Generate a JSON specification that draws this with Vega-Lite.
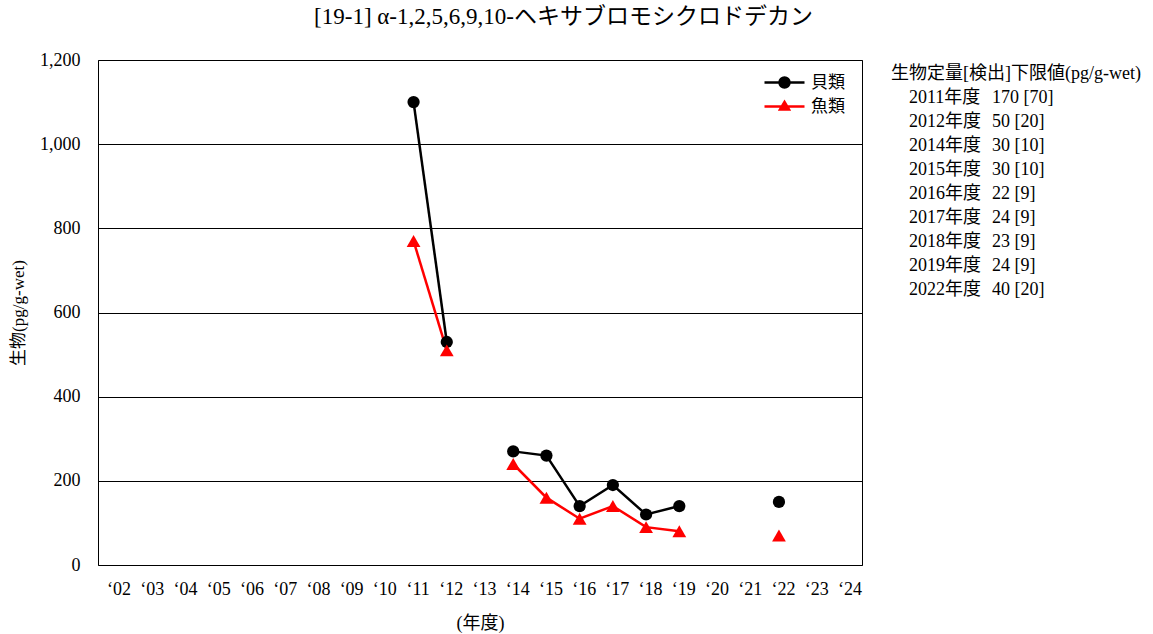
{
  "$schema": "https://vega.github.io/schema/vega-lite/v6.json",
  "padding": {"left": 9, "right": 5, "top": 5, "bottom": 0},
  "background": "white",
  "title": {
    "text": "[19-1] α-1,2,5,6,9,10-ヘキサブロモシクロドデカン",
    "fontSize": 23,
    "fontWeight": "normal",
    "font": "Liberation Serif, Noto Sans CJK JP",
    "color": "black",
    "anchor": "middle",
    "dx": -14,
    "offset": 22
  },
  "config": {
    "font": "Liberation Serif, Noto Sans CJK JP",
    "view": {"stroke": "black", "strokeWidth": 1},
    "axis": {
      "labelFont": "Liberation Serif",
      "titleFont": "Liberation Serif, Noto Sans CJK JP",
      "labelColor": "black",
      "titleColor": "black",
      "labelFontSize": 18,
      "titleFontSize": 17,
      "titleFontWeight": "normal"
    }
  },
  "spacing": 28,
  "hconcat": [
    {
      "width": 764,
      "height": 505,
      "data": {
        "values": [
          {"yr": "‘11", "series": "貝類", "value": 1100, "seg": "a"},
          {"yr": "‘12", "series": "貝類", "value": 530, "seg": "a"},
          {"yr": "‘14", "series": "貝類", "value": 270, "seg": "b"},
          {"yr": "‘15", "series": "貝類", "value": 260, "seg": "b"},
          {"yr": "‘16", "series": "貝類", "value": 140, "seg": "b"},
          {"yr": "‘17", "series": "貝類", "value": 190, "seg": "b"},
          {"yr": "‘18", "series": "貝類", "value": 120, "seg": "b"},
          {"yr": "‘19", "series": "貝類", "value": 140, "seg": "b"},
          {"yr": "‘22", "series": "貝類", "value": 150, "seg": "c"},
          {"yr": "‘11", "series": "魚類", "value": 770, "seg": "a"},
          {"yr": "‘12", "series": "魚類", "value": 510, "seg": "a"},
          {"yr": "‘14", "series": "魚類", "value": 240, "seg": "b"},
          {"yr": "‘15", "series": "魚類", "value": 160, "seg": "b"},
          {"yr": "‘16", "series": "魚類", "value": 110, "seg": "b"},
          {"yr": "‘17", "series": "魚類", "value": 140, "seg": "b"},
          {"yr": "‘18", "series": "魚類", "value": 90, "seg": "b"},
          {"yr": "‘19", "series": "魚類", "value": 80, "seg": "b"},
          {"yr": "‘22", "series": "魚類", "value": 70, "seg": "c"}
        ]
      },
      "encoding": {
        "x": {
          "field": "yr",
          "type": "ordinal",
          "sort": null,
          "scale": {
            "domain": ["‘02","‘03","‘04","‘05","‘06","‘07","‘08","‘09","‘10","‘11","‘12","‘13","‘14","‘15","‘16","‘17","‘18","‘19","‘20","‘21","‘22","‘23","‘24"],
            "padding": 0.5
          },
          "axis": {
            "title": "(年度)",
            "labelFont": "Liberation Serif",
            "titleFontSize": 18,
            "labelAngle": 0,
            "grid": false,
            "ticks": false,
            "tickSize": 0,
            "domain": false,
            "labelPadding": 15,
            "titlePadding": 16,
            "labelOffset": 4
          }
        },
        "y": {
          "field": "value",
          "type": "quantitative",
          "scale": {"domain": [0, 1200]},
          "axis": {
            "title": "生物(pg/g-wet)",
            "labelFont": "Liberation Serif",
            "values": [0, 200, 400, 600, 800, 1000, 1200],
            "format": ",.0f",
            "grid": true,
            "gridColor": "black",
            "gridOpacity": 1,
            "gridWidth": 1,
            "ticks": false,
            "tickSize": 0,
            "domain": false,
            "labelPadding": 18,
            "titlePadding": 12
          }
        },
        "color": {
          "field": "series",
          "type": "nominal",
          "scale": {"domain": ["貝類", "魚類"], "range": ["black", "red"]},
          "legend": {
            "title": null,
            "orient": "none",
            "legendX": 675,
            "legendY": 11,
            "symbolSize": 400,
            "symbolStrokeWidth": 2.5,
            "labelFontSize": 17,
            "labelColor": "black",
            "labelOffset": 15,
            "rowPadding": 2,
            "encode": {
              "symbols": {
                "update": {
                  "shape": {"signal": "datum.value === '貝類' ? 'M-2,0H2M-0.5,0A0.5,0.5 0 1 1 0.5,0A0.5,0.5 0 1 1 -0.5,0Z' : 'M-2,0H2M0,-0.45L0.45,0.3L-0.45,0.3Z'"},
                  "fill": {"scale": "color", "field": "value"},
                  "stroke": {"scale": "color", "field": "value"},
                  "opacity": {"value": 1},
                  "fillOpacity": {"value": 1}
                }
              }
            }
          }
        }
      },
      "layer": [
        {
          "mark": {"type": "line", "strokeWidth": 2.5},
          "encoding": {"detail": {"field": "seg"}}
        },
        {
          "transform": [{"filter": "datum.series === '貝類'"}],
          "mark": {"type": "point", "filled": true, "size": 150, "opacity": 1, "shape": "circle"}
        },
        {
          "transform": [{"filter": "datum.series === '魚類'"}],
          "mark": {"type": "point", "filled": true, "size": 190, "opacity": 1, "shape": "triangle-up"}
        }
      ]
    },
    {
      "width": 255,
      "height": 505,
      "view": {"stroke": null},
      "data": {
        "values": [
          {"row": 0, "label": "生物定量[検出]下限値(pg/g-wet)", "value": ""},
          {"row": 1, "label": "2011年度", "value": "170 [70]"},
          {"row": 2, "label": "2012年度", "value": "50 [20]"},
          {"row": 3, "label": "2014年度", "value": "30 [10]"},
          {"row": 4, "label": "2015年度", "value": "30 [10]"},
          {"row": 5, "label": "2016年度", "value": "22 [9]"},
          {"row": 6, "label": "2017年度", "value": "24 [9]"},
          {"row": 7, "label": "2018年度", "value": "23 [9]"},
          {"row": 8, "label": "2019年度", "value": "24 [9]"},
          {"row": 9, "label": "2022年度", "value": "40 [20]"}
        ]
      },
      "encoding": {
        "y": {
          "field": "row",
          "type": "quantitative",
          "scale": {"domain": [-0.5833, 20.4583], "reverse": true},
          "axis": null
        },
        "x": {"datum": 0, "type": "quantitative", "scale": {"domain": [0, 1]}, "axis": null}
      },
      "layer": [
        {
          "transform": [{"filter": "datum.row == 0"}],
          "mark": {"type": "text", "align": "left", "baseline": "middle", "fontSize": 18, "color": "black"},
          "encoding": {"text": {"field": "label"}}
        },
        {
          "transform": [{"filter": "datum.row > 0"}],
          "mark": {"type": "text", "align": "left", "baseline": "middle", "fontSize": 18, "dx": 18, "color": "black"},
          "encoding": {"text": {"field": "label"}}
        },
        {
          "transform": [{"filter": "datum.row > 0"}],
          "mark": {"type": "text", "align": "left", "baseline": "middle", "fontSize": 18, "dx": 101, "color": "black"},
          "encoding": {"text": {"field": "value"}}
        }
      ]
    }
  ]
}
